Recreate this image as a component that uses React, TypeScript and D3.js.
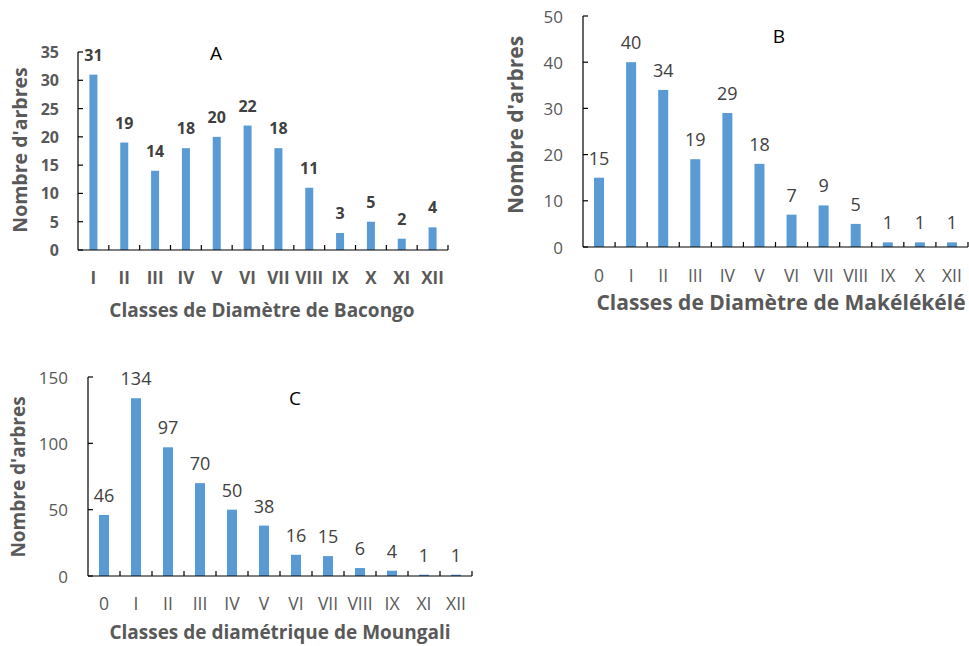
import * as d3 from "d3";

// Panel A - Bacongo
const classesA = ["I", "II", "III", "IV", "V", "VI", "VII", "VIII", "IX", "X", "XI", "XII"];
const countsA = [31, 19, 14, 18, 20, 22, 18, 11, 3, 5, 2, 4];
const ticksA = [0, 5, 10, 15, 20, 25, 30, 35];

// Panel B - Makélékélé
const classesB = ["0", "I", "II", "III", "IV", "V", "VI", "VII", "VIII", "IX", "X", "XII"];
const countsB = [15, 40, 34, 19, 29, 18, 7, 9, 5, 1, 1, 1];
const ticksB = [0, 10, 20, 30, 40, 50];

// Panel C - Moungali
const classesC = ["0", "I", "II", "III", "IV", "V", "VI", "VII", "VIII", "IX", "XI", "XII"];
const countsC = [46, 134, 97, 70, 50, 38, 16, 15, 6, 4, 1, 1];
const ticksC = [0, 50, 100, 150];

const FONT = "'Open Sans', sans-serif";
const BAR = "#5b9bd5";
const GREY = "#595959";
const DARK = "#404040";

type PanelProps = {
  letter: string;
  classes: string[];
  counts: number[];
  ticks: number[];
  x0: number;
  x1: number;
  y0: number;
  yTop: number;
  barW: number;
  bold: boolean;
  tickFont: number;
  tickX: number;
  catFont: number;
  labelFont: number;
  xLabelY: number;
  yTitle: [number, number, number];
  xTitle: [string, number, number, number];
  letterPos: [number, number];
};

function Panel(p: PanelProps) {
  const x = d3.scaleBand<string>().domain(p.classes).range([p.x0, p.x1]).padding(0);
  const y = d3
    .scaleLinear()
    .domain([0, p.ticks[p.ticks.length - 1]])
    .range([p.y0, p.yTop]);
  const fw = p.bold ? 700 : 400;
  const edges = p.classes.map((c) => (x(c) as number) + x.bandwidth());

  return (
    <g fontFamily={FONT}>
      {p.counts.map((v, i) => {
        const cx = (x(p.classes[i]) as number) + x.bandwidth() / 2;
        return (
          <g key={i}>
            <rect x={cx - p.barW / 2} y={y(v)} width={p.barW} height={p.y0 - y(v)} fill={BAR} />
            <text
              x={cx}
              y={y(v) - 20}
              textAnchor="middle"
              dominantBaseline="central"
              fontSize={p.labelFont}
              fontWeight={fw}
              fill={DARK}
            >
              {v}
            </text>
            <text
              x={cx}
              y={p.xLabelY}
              textAnchor="middle"
              dominantBaseline="central"
              fontSize={p.catFont}
              fontWeight={fw}
              fill={GREY}
            >
              {p.classes[i]}
            </text>
          </g>
        );
      })}
      {/* axes */}
      <line x1={p.x0} x2={p.x0} y1={p.yTop} y2={p.y0} stroke="#000" strokeWidth={1.2} />
      <line x1={p.x0} x2={p.x1} y1={p.y0} y2={p.y0} stroke="#000" strokeWidth={1.2} />
      {p.ticks.map((t) => (
        <g key={t}>
          <line x1={p.x0} x2={p.x0 + 5} y1={y(t)} y2={y(t)} stroke="#000" strokeWidth={1.2} />
          <text
            x={p.tickX}
            y={y(t)}
            textAnchor="end"
            dominantBaseline="central"
            fontSize={p.tickFont}
            fontWeight={fw}
            fill={GREY}
          >
            {t}
          </text>
        </g>
      ))}
      {edges.map((ex, i) => (
        <line key={i} x1={ex} x2={ex} y1={p.y0} y2={p.y0 - 5} stroke="#000" strokeWidth={1.2} />
      ))}
      <text
        transform={`translate(${p.yTitle[0]},${p.yTitle[1]}) rotate(-90)`}
        textAnchor="middle"
        dominantBaseline="central"
        fontSize={p.yTitle[2]}
        fontWeight={700}
        fill={GREY}
      >
        Nombre d'arbres
      </text>
      <text
        x={p.xTitle[1]}
        y={p.xTitle[2]}
        textAnchor="middle"
        dominantBaseline="central"
        fontSize={p.xTitle[3]}
        fontWeight={700}
        fill={GREY}
      >
        {p.xTitle[0]}
      </text>
      <text
        x={p.letterPos[0]}
        y={p.letterPos[1]}
        textAnchor="middle"
        dominantBaseline="central"
        fontSize={19}
        fill="#000"
      >
        {p.letter}
      </text>
    </g>
  );
}

export default function App() {
  return (
    <svg
      width={969}
      height={646}
      style={{ position: "absolute", left: 0, top: 0, background: "#fff" }}
    >
      <Panel
        letter="A"
        classes={classesA}
        counts={countsA}
        ticks={ticksA}
        x0={78}
        x1={448}
        y0={250}
        yTop={52}
        barW={8}
        bold={true}
        tickFont={16}
        tickX={59}
        catFont={17}
        labelFont={16}
        xLabelY={277}
        yTitle={[19, 150, 19.5]}
        xTitle={["Classes de Diamètre de Bacongo", 262, 310, 19]}
        letterPos={[216, 53]}
      />
      <Panel
        letter="B"
        classes={classesB}
        counts={countsB}
        ticks={ticksB}
        x0={583}
        x1={968}
        y0={247}
        yTop={16}
        barW={10}
        bold={false}
        tickFont={17}
        tickX={563}
        catFont={17.5}
        labelFont={18}
        xLabelY={275}
        yTitle={[515, 125, 21]}
        xTitle={["Classes de Diamètre de Makélékélé", 781, 302, 21]}
        letterPos={[779, 36]}
      />
      <Panel
        letter="C"
        classes={classesC}
        counts={countsC}
        ticks={ticksC}
        x0={88}
        x1={472}
        y0={576}
        yTop={377}
        barW={10}
        bold={false}
        tickFont={17}
        tickX={68}
        catFont={17.5}
        labelFont={18}
        xLabelY={603}
        yTitle={[18, 477, 19]}
        xTitle={["Classes de diamétrique de Moungali", 280, 632, 19]}
        letterPos={[295, 398]}
      />
    </svg>
  );
}
